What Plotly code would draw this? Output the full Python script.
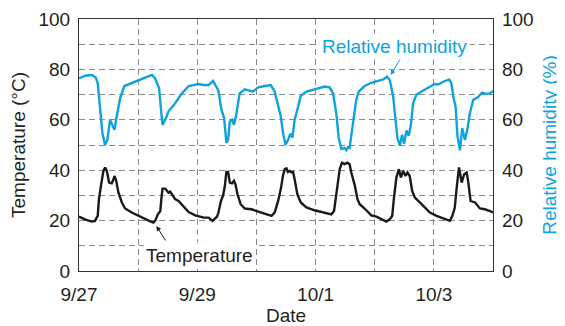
import pandas as pd
import plotly.graph_objects as go

start = pd.Timestamp("2023-09-27")

# Relative humidity (%) : hours since 9/27 00:00, values
rh_hours = [0, 2.4, 5.2, 6.8, 7.6, 8.5, 9.5, 10.6, 11.5, 12.6, 13.6, 14.4, 15.3, 16.7, 18.4,
            24.1, 29.6, 30.9, 32.5, 33.4, 33.9, 35, 36.3, 39, 41.8, 44.5, 48.5, 50.6, 52.6, 54.4,
            56.5, 57.8, 58.9, 59.8, 60.5, 61.2, 62.1, 62.9, 63.9, 65.2, 67.3, 70.6, 72.7, 75.4,
            77.8, 79.4, 80.8, 81.9, 82.8, 83.8, 84.8, 85.8, 86.6, 87.5, 88.6, 90, 92.3, 95.6,
            99.7, 101.7, 103.1, 104.4, 105.4, 106.5, 107.8, 108.5, 109.2, 109.8, 110.8, 111.9,
            112.5, 113.5, 115.9, 118.6, 121.4, 123.4, 125, 126.1, 127.5, 128.4, 129.2, 130.2,
            131.1, 131.9, 132.9, 133.8, 134.6, 135.6, 136.9, 139.7, 142.4, 144.4, 146, 147.8,
            150.2, 151.1, 151.9, 152.8, 153.6, 154.6, 155.5, 156.6, 157.7, 158.6, 160, 161.8,
            163.6, 165, 166.8, 168]
rh_values = [76.4, 77.5, 77.8, 76.8, 74.5, 65.3, 54.7, 50, 52, 60, 58, 56, 61.3, 68.6, 73.4,
             75.5, 77.8, 76.4, 72.5, 62.6, 58, 60, 63.3, 66.6, 70.5, 73.4, 74.2, 73.8, 73.8, 75.4,
             71.8, 64, 60.7, 50.8, 52, 59.3, 60, 58, 62.6, 70.5, 72.1, 71.2, 72.9, 73.4,
             73.8, 71.2, 65.3, 61.3, 54.7, 50.1, 52, 54.5, 52.9, 60, 64, 69.5, 71.2, 72.1,
             73.2, 72.9, 70.5, 62.6, 52.8, 48.4, 48.8, 47.9, 49.2, 48.8, 56, 62.6,
             67.9, 71.2, 73.4, 74.7, 75.4, 76, 77.1, 75.8, 69.2, 60, 52.8, 49.7,
             54.1, 50.5, 55.8, 53.7, 57.4, 66.6, 69.9, 71.6, 73.2, 74.2, 74.1, 75.1,
             76, 74.5, 69.2, 65.3, 53.4, 47.9, 56.7, 52, 56.7, 62.6, 67.9, 68.9,
             70.8, 70.3, 70.5, 71.4]

# Temperature (°C)
t_hours = [0, 2.4, 5.2, 6.5, 7.6, 8.1, 8.9, 9.9, 10.6, 11.3, 12.2, 13.3, 14, 14.4, 15.1, 16,
           17.4, 18.7, 21.4, 24.1, 26.8, 28.9, 30.2, 30.9, 32, 33, 33.4, 33.9, 35, 35.7, 36.3,
           37, 38, 39, 40.4, 42.4, 44.5, 47.2, 50.6, 52.6, 54.2, 56, 56.6, 57.5, 58.5, 59.2,
           59.8, 60.5, 61.2, 62.1, 62.9, 63.5, 64.3, 65.6, 67.3, 69.9, 72, 74.7, 78.1, 79.4,
           80.8, 81.9, 82.8, 83.5, 84.2, 84.8, 85.5, 86.2, 86.9, 87.5, 88.6, 90, 92.3, 95.6,
           99.7, 102.4, 103.5, 104.8, 105.8, 106.7, 107.8, 108.9, 109.8, 110.5, 111.9, 113,
           113.9, 115.9, 118.6, 120.7, 122.7, 124.7, 126.1, 127.1, 127.9, 128.8, 129.8, 130.6,
           131.5, 132.5, 133.3, 134.2, 135.2, 136.3, 138.3, 140.3, 142.4, 145.1, 147.8, 150.5,
           151.5, 152.5, 153.2, 154.2, 155.3, 156.3, 157.3, 158, 158.9, 160.7, 162.7, 164.7,
           166.8, 168]
t_values = [21.6, 20.5, 19.6, 19.9, 21.9, 28.5, 33.8, 39.7, 41.1, 39.7, 35.1, 34.8, 36.4, 37.7,
            35.8, 31.1, 27.2, 24.8, 23.2, 21.9, 20.5, 19.7, 19.2, 19.9, 22.5, 23.8, 28.5, 32.7,
            32.7, 31.8, 31.1, 31.5, 29.8, 28.5, 27.8, 25.8, 23.4, 22.1, 21.2, 21.2, 19.9, 21.6,
            23.2, 27.4, 30.1, 33.8, 39.3, 39.3, 35.1, 34.8, 35.8, 34.4, 30.5, 26.5, 24.8, 24.5,
            23.8, 22.8, 21.9, 23.2, 27.8, 32.5, 38, 40.4, 40.7, 39.3, 39.7, 39.1, 39.3, 36.4,
            30.5, 27.2, 25.2, 24.1, 23.2, 22.5, 23.8, 32.5, 40.4, 43, 42.4, 43, 42.4, 39.1,
            34, 28.5, 26.5, 24.8, 22.1, 21.6, 20.5, 19.6, 20.5, 21.9, 29.8, 37.1, 40.4, 37.1,
            39.7, 37.7, 39.1, 37.7, 31.8, 29.1, 27.2, 25.2, 23.2, 21.9, 20.8, 19.9,
            21.9, 25.2, 32.5, 41.1, 35.1, 38.4, 39.1, 35.1, 27.8, 27.2, 24.8, 24.5,
            23.8, 23.2]

day_ticks = pd.date_range("2023-09-27", "2023-10-04", freq="D")
day_labels = ["9/27", "", "9/29", "", "10/1", "", "10/3", ""]
y_ticks = [0, 10, 20, 30, 40, 50, 60, 70, 80, 90, 100]
y_labels = ["0", "", "20", "", "40", "", "60", "", "80", "", "100"]

BLUE = "#0fa3de"
FONT = "Liberation Sans, Arial, sans-serif"
INK = "#231f20"
FS = 19

rh_x = start + pd.to_timedelta(rh_hours, unit="h")
t_x = start + pd.to_timedelta(t_hours, unit="h")

fig = go.Figure()
fig.add_trace(go.Scatter(x=t_x, y=t_values, mode="lines", name="Temperature",
                         line=dict(color="#1a1a1a", width=2.4), yaxis="y"))
fig.add_trace(go.Scatter(x=rh_x, y=rh_values, mode="lines", name="Relative humidity",
                         line=dict(color=BLUE, width=2.4), yaxis="y2"))

grid = dict(showgrid=True, gridcolor="#8a8a8a", gridwidth=1, griddash="6px,4px")

# page body has an 8px default margin, so the figure is 8px smaller than the window
fig.update_layout(
    width=557, height=318,
    margin=dict(l=71, r=72, t=11, b=55),
    paper_bgcolor="white", plot_bgcolor="white",
    showlegend=False,
    font=dict(family=FONT, size=FS, color=INK),
    xaxis=dict(type="date", range=[day_ticks[0], day_ticks[-1]],
               tickvals=list(day_ticks), ticktext=day_labels, automargin=False,
               ticks="", showline=True, linecolor="#333", linewidth=1.2, mirror=True,
               zeroline=False, ticklabelstandoff=6,
               title=dict(text="Date", font=dict(size=FS, color=INK), standoff=6),
               **grid),
    yaxis=dict(range=[0, 100], tickvals=y_ticks, ticktext=y_labels, ticks="",
               showline=True, linecolor="#333", linewidth=1.2, mirror=True, automargin=False,
               zeroline=False, ticklabelstandoff=4,
               title=dict(text="Temperature (°C)", font=dict(size=FS, color=INK), standoff=10),
               **grid),
    yaxis2=dict(range=[0, 100], overlaying="y", side="right", automargin=False,
                tickvals=[0, 20, 40, 60, 80, 100], ticks="", showgrid=False,
                showline=True, linecolor="#333", linewidth=1.2, zeroline=False,
                ticklabelstandoff=4,
                title=dict(text="Relative humidity (%)", font=dict(size=FS, color=BLUE), standoff=10)),
)

# arrows
fig.add_annotation(x=start + pd.Timedelta(hours=126.5), y=77.8, yref="y2", ax=10, ay=-17,
                   showarrow=True, arrowhead=2, arrowsize=1, arrowwidth=1, arrowcolor=BLUE, text="")
fig.add_annotation(x=start + pd.Timedelta(hours=31.4), y=17.9, ax=10, ay=16,
                   showarrow=True, arrowhead=2, arrowsize=1, arrowwidth=1, arrowcolor="#1a1a1a", text="")
# labels
fig.add_annotation(x=start + pd.Timedelta(hours=128.1), y=88.9, text="Relative humidity",
                   showarrow=False, bgcolor="white", borderpad=2,
                   font=dict(size=FS, color=BLUE, family=FONT))
fig.add_annotation(x=start + pd.Timedelta(hours=49), y=6.0, text="Temperature",
                   showarrow=False, bgcolor="white", borderpad=2,
                   font=dict(size=FS, color=INK, family=FONT))

fig.write_html("out.html")
